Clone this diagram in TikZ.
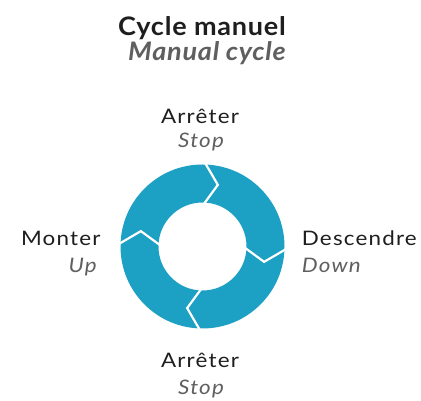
\documentclass[tikz,border=0pt]{standalone}
\usepackage{fontspec}
\setmainfont{Lato}
\newfontfamily\lblfont[FakeStretch=1.12,LetterSpace=6]{Lato}
\newfontfamily\ttlfont[FakeStretch=1.06,LetterSpace=3]{Lato}
\definecolor{ringblue}{RGB}{28,160,196}
\definecolor{txtdark}{RGB}{30,30,30}
\definecolor{txtgray}{RGB}{95,95,95}
\begin{document}
\begin{tikzpicture}[x=1pt,y=1pt,
  lbl/.style={inner sep=0pt, anchor=base, text=txtdark, font=\lblfont\fontsize{20}{24}\selectfont},
  sub/.style={inner sep=0pt, anchor=base, text=txtgray, font=\lblfont\fontsize{20}{24}\selectfont\itshape},
  ttl/.style={inner sep=0pt, anchor=base, text=txtdark, font=\ttlfont\fontsize{25.5}{30}\selectfont\bfseries},
  ttlsub/.style={inner sep=0pt, anchor=base, text=txtgray, font=\ttlfont\fontsize{25.5}{30}\selectfont\bfseries\itshape},
  gap/.style={draw=white, line width=2.2pt, line join=miter}]
\useasboundingbox (0,0) rectangle (421,401);
% title
\node[ttl] (title) at (202,365.5) {Cycle manuel};
\node[ttlsub] (subtitle) at (207,340) {Manual cycle};
% ring
\begin{scope}[shift={(202.5,154.5)}]
  \fill[ringblue, even odd rule] (0,0) circle (82) (0,0) circle (44);
  \foreach \a in {90,0,-90,180} {
    \draw[gap] (\a:88) -- (\a-14:63.5) -- (\a+3:38);
  }
\end{scope}
% labels
\node[lbl] (topfr) at (200,277.7) {Arrêter};
\node[sub] (topen) at (201,253.3) {Stop};
\node[lbl, anchor=base west] (rightfr) at (301.7,155) {Descendre};
\node[sub, anchor=base west] (righten) at (301.7,128.3) {Down};
\node[lbl, anchor=base east] (leftfr) at (100.7,155) {Monter};
\node[sub, anchor=base east] (leften) at (97,128.3) {Up};
\node[lbl] (botfr) at (200,33.3) {Arrêter};
\node[sub] (boten) at (201,6) {Stop};
\end{tikzpicture}
\end{document}
